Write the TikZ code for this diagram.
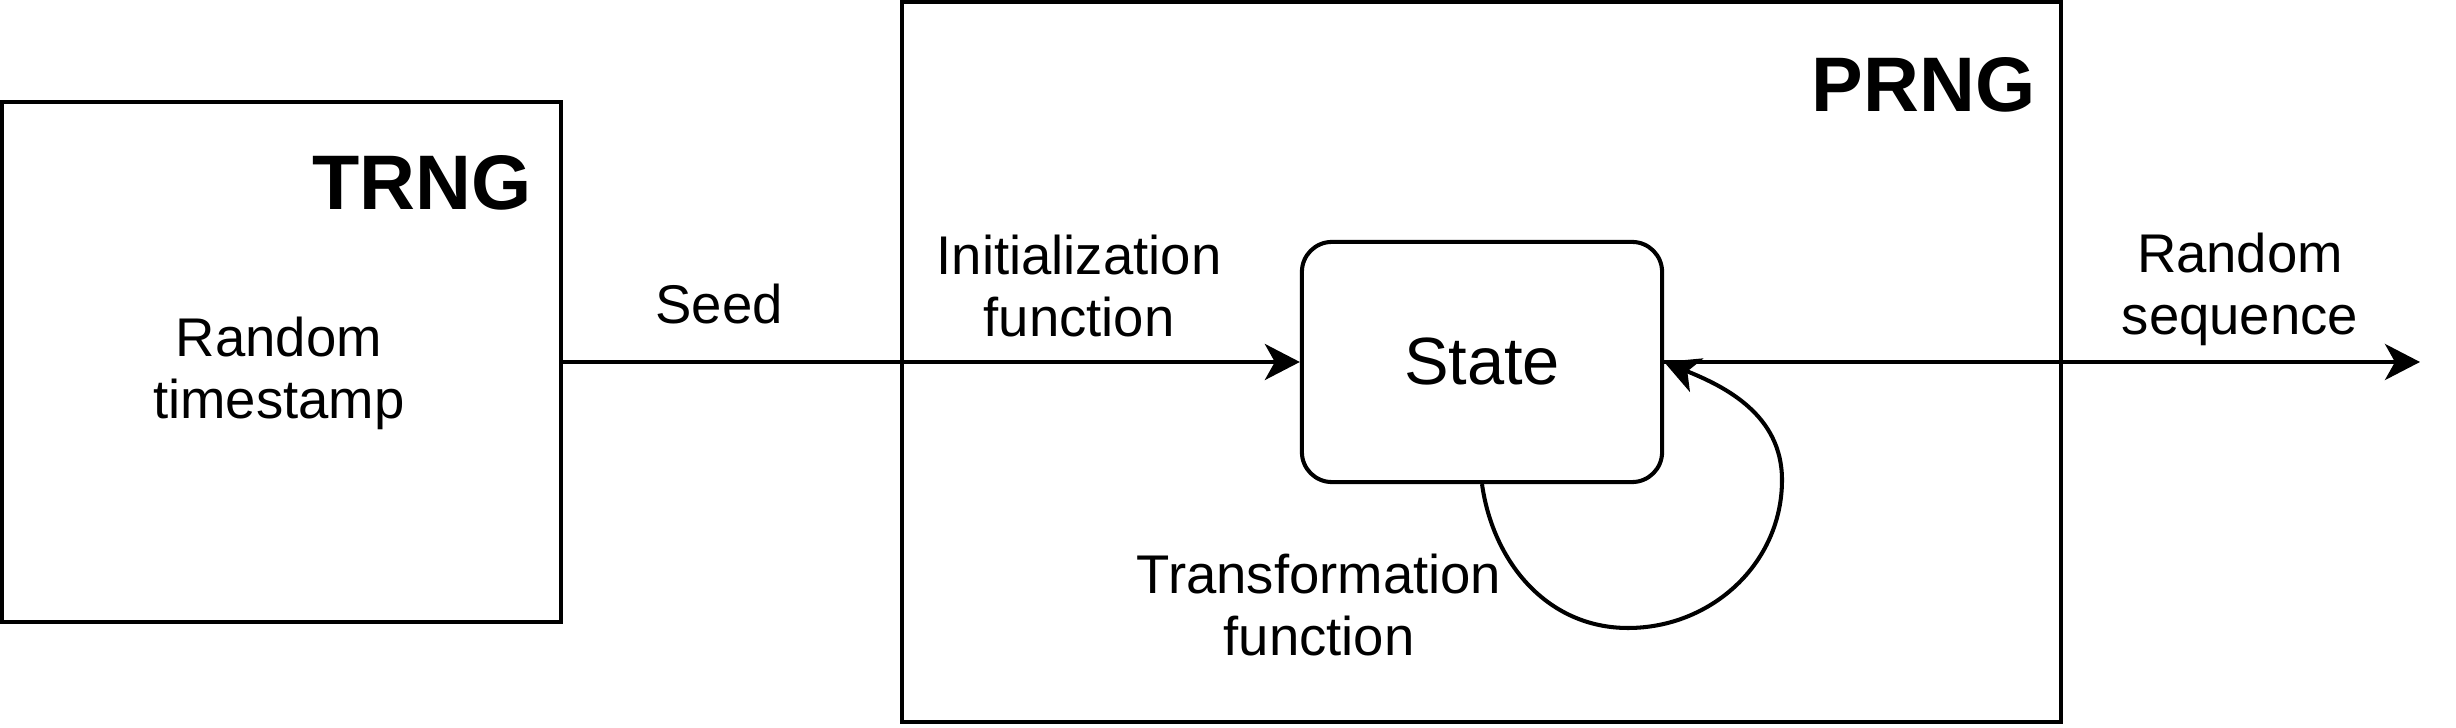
\documentclass[tikz,border=0pt]{standalone}
\usepackage{fontspec}
\setmainfont{Liberation Sans}
\usetikzlibrary{arrows.meta, positioning}
\tikzset{
	>={Stealth[length=0.35cm, width=0.36cm, inset=0.1cm]},
	every node/.style={font=\fontsize{15.5}{17.6}\selectfont},
}

\begin{document}
\begin{tikzpicture}[
    x=0.01cm,
    y=0.01cm,
    line width=1.15pt,
    blk/.style={draw, minimum width=5.59cm, minimum height=5.2cm},
    title/.style={font=\fontsize{22}{26}\selectfont\bfseries, anchor=east},
    lbl/.style={align=center}
]
\useasboundingbox (0,0) rectangle (2456,-728);

% --- Blocks ---
\node[blk] (trng) at (281.5,-362) {};
\node[blk, minimum width=11.59cm, minimum height=7.2cm] (prng) at (1481.5,-362) {};
\node[draw, rounded corners=0.3cm, minimum width=3.6cm, minimum height=2.4cm,
      font=\fontsize{19}{22}\selectfont] (state) at (1482,-362) {State};

% --- Titles ---
\node[title] (trngt) at (545,-183) {TRNG};
\node[title] (prngt) at (2049,-85) {PRNG};

% --- Labels ---
\node[lbl] (stamp) at (279,-373) {Random\\timestamp};
\node[lbl] (seed) at (719,-304) {Seed};
\node[lbl] (init) at (1079,-286) {Initialization\\function};
\node[lbl] (seq) at (2240,-289) {Random\\sequence};
\node[lbl] (trans) at (1319,-605) {Transformation\\function};

% --- Connectors ---
\coordinate (out) at (2420,-362);
\draw[->] (trng.east) -- (state.west);
\draw[->] (state.east) -- (out);
\draw[->] (state.south) to[out=-82, in=180] (1628,-628)
    to[out=0, in=-90] (1782,-480) to[out=90, in=-22] (state.east);
\end{tikzpicture}
\end{document}
